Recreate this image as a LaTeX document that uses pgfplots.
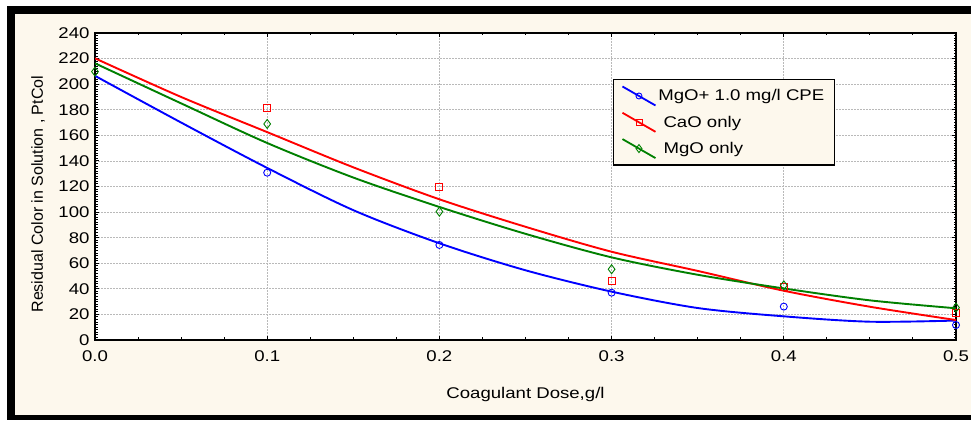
\documentclass[border=0pt]{standalone}
\usepackage{fontspec}
\setmainfont{Liberation Sans}[FakeStretch=1.2]
\newfontfamily\labelfont{Liberation Sans}
\usepackage{pgfplots}
\pgfplotsset{compat=1.18}
\definecolor{panel}{RGB}{253,248,237}
\definecolor{gridgray}{RGB}{185,185,185}
\definecolor{fitgreen}{RGB}{0,128,0}

\begin{document}
\begin{tikzpicture}[x=1pt,y=1pt]
\useasboundingbox (0,0) rectangle (971,420);
\fill[white] (0,0) rectangle (971,420);
\fill[black] (7,0) rectangle (971,414);
\fill[panel] (15,5) rectangle (971,406);
\begin{axis}[
  at={(95pt,80pt)}, anchor=south west,
  scale only axis, width=861pt, height=307pt,
  xmin=0, xmax=0.5, ymin=0, ymax=240,
  axis background/.style={fill=white},
  xtick={0,0.1,0.2,0.3,0.4,0.5},
  ytick={0,20,...,240},
  minor x tick num=3, minor y tick num=9,
  tick align=inside, tick pos=both,
  major tick length=4pt, minor tick length=2.5pt,
  every tick/.style={black, line width=1pt},
  axis line style={line width=2pt},
  grid=major,
  major grid style={gridgray, dash pattern=on 1.5pt off 1.5pt, line width=0.8pt},
  /pgf/number format/assume math mode=true,
  ticklabel style={font=\fontsize{15.5}{18}\selectfont},
  xticklabel style={/pgf/number format/fixed, /pgf/number format/fixed zerofill,
    /pgf/number format/precision=1, yshift=-7pt},
  yticklabel style={xshift=-2pt},
  xlabel={Coagulant Dose,g/l},
  xlabel style={font=\fontsize{15.5}{18}\selectfont,
    at={(axis description cs:0.5,-0.176)}, anchor=center},
  ylabel={Residual Color in Solution , PtCol},
  ylabel style={font=\labelfont\fontsize{16}{19}\selectfont,
    at={(axis description cs:-0.066,0.475)}, anchor=center},
  legend image code/.code={
    \draw[mark repeat=2, mark phase=2, #1]
      plot coordinates {(0pt,9.5pt) (16.5pt,0pt) (33pt,-9.5pt)};},
  legend style={at={(axis description cs:0.6016,0.8502)}, anchor=north west,
    fill=panel, draw=black, line width=1.2pt,
    font=\fontsize{15.5}{18}\selectfont,
    inner xsep=8pt, inner ysep=6pt, row sep=5.5pt,
    legend cell align=left},
]
% legend entries: fitted line with its sample marker
\addlegendimage{blue, line width=1.8pt, mark=o, mark size=3pt,
  mark options={solid, line width=0.9pt, fill=white}}
\addlegendentry{MgO+ 1.0 mg/l CPE}
\addlegendimage{red, line width=1.8pt, mark=square, mark size=3pt,
  mark options={solid, line width=0.9pt, fill=white}}
\addlegendentry{\ CaO only}
\addlegendimage{fitgreen, line width=1.8pt, mark=diamond, mark size=4pt,
  mark options={solid, line width=0.9pt, fill=white}}
\addlegendentry{\ MgO only}

% fitted curves
\addplot[blue, line width=1.9pt, smooth, forget plot] coordinates {
  (0,206.5) (0.05,170) (0.1,134.5) (0.15,101.5) (0.2,75.6) (0.25,54.5)
  (0.3,37.8) (0.35,25) (0.4,18.5) (0.45,14.3) (0.5,15.2)};
\addplot[red, line width=1.9pt, smooth, forget plot] coordinates {
  (0,220.2) (0.05,190) (0.1,162.5) (0.15,135) (0.2,110) (0.25,88.5)
  (0.3,69) (0.35,54) (0.4,38.5) (0.45,26) (0.5,15.6)};
\addplot[fitgreen, line width=1.9pt, smooth, forget plot] coordinates {
  (0,216.3) (0.05,185) (0.1,154) (0.15,127) (0.2,104) (0.25,83)
  (0.3,64.6) (0.35,51) (0.4,40.3) (0.45,31) (0.5,24.8)};

% measured values
\addplot[blue, only marks, mark=o, mark size=3.5pt,
  mark options={line width=0.9pt}, forget plot] coordinates {
  (0.1,130.8) (0.2,74.3) (0.3,37) (0.4,26.1) (0.5,11.7)};
\addplot[red, only marks, mark=square, mark size=3.5pt,
  mark options={line width=0.9pt}, forget plot] coordinates {
  (0.1,181.1) (0.2,119.9) (0.3,46.4) (0.4,41.2) (0.5,21.4)};
\addplot[fitgreen, only marks, mark=diamond, mark size=4.5pt,
  mark options={line width=0.9pt}, forget plot] coordinates {
  (0,209.8) (0.1,168.9) (0.2,100.3) (0.3,55.3) (0.4,42.7) (0.5,25.3)};
\end{axis}
\end{tikzpicture}
\end{document}
